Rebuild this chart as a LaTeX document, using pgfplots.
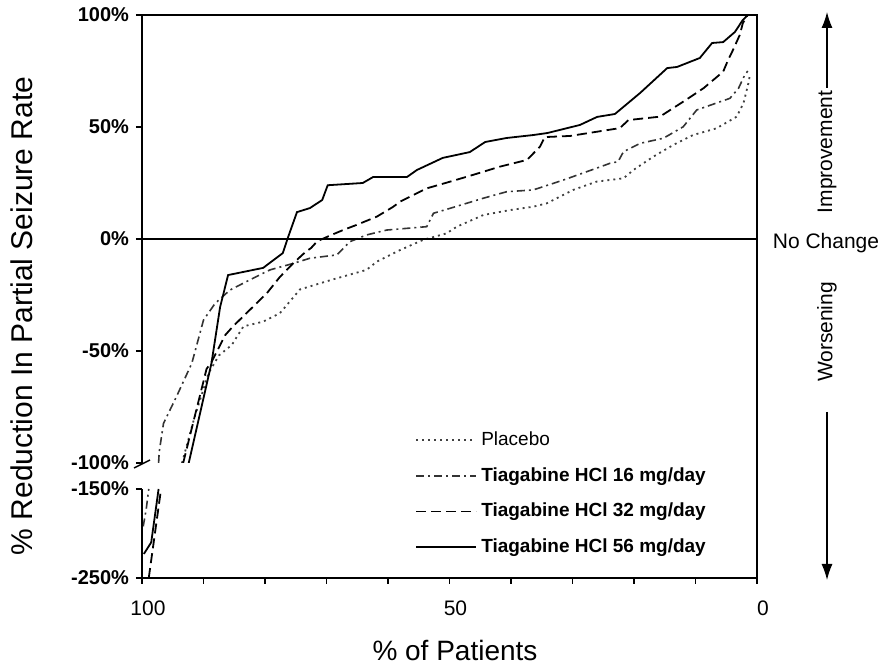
\documentclass[border=0pt]{standalone}
\usepackage{fontspec}
\setmainfont{Liberation Sans}
\usepackage{pgfplots}
\pgfplotsset{compat=1.18}
\usetikzlibrary{arrows.meta}

\pgfplotsset{
  s56/.style={black, line width=0.9pt},
  s32/.style={black, line width=0.9pt, dash pattern=on 5pt off 2.5pt},
  s16/.style={black!80, line width=0.8pt, dash pattern=on 4pt off 2pt on 1pt off 2pt},
  spl/.style={black!75, line width=0.9pt, dash pattern=on 1pt off 2pt},
}

\begin{document}
\begin{tikzpicture}
\path[use as bounding box] (0pt,0pt) rectangle (441pt,334pt);

\begin{axis}[
  name=upper,
  scale only axis, width=307.5pt, height=224pt,
  at={(71pt,102.5pt)}, anchor=south west,
  xmin=0, xmax=100, x dir=reverse, ymin=-100, ymax=100,
  xtick=\empty,
  ytick={-100,-50,0,50,100},
  yticklabels={-100\%,-50\%,0\%,50\%,100\%},
  yticklabel style={font=\fontsize{10}{12}\selectfont\bfseries},
  ytick pos=left, tick align=outside, major tick length=3pt,
  tick style={black, line width=0.7pt},
  axis line style={draw=none},
  legend style={draw=none, fill=none, at={(0.444,0.08)}, anchor=north west,
    font=\fontsize{9.5}{11}\selectfont\bfseries, row sep=5.5pt, inner sep=0pt},
  legend cell align=left,
  legend image code/.code={\draw[#1] (0pt,0pt) -- (30pt,0pt);},
]
\addplot[spl] coordinates {
(93.5,-100) (91.5,-80) (89.2,-60) (87.5,-52) (85.4,-47.3) (83.5,-39) (80.3,-36.9)
(77.6,-33.2) (74.3,-22.5) (68.9,-18) (63.5,-13.8) (61.8,-10.1) (58,-4.9) (54.3,-0.4)
(50.5,2.5) (48.8,5.5) (44.5,10.7) (40.2,12.9) (36.4,14.4) (34.2,15.9) (29.9,21.9)
(26.1,25.6) (21.7,27.1) (20.1,30.8) (16.9,36.7) (13.6,42) (10.4,46.4) (6.6,49.4)
(3.3,54.6) (2.2,60.6) (1.4,69.5) (1.1,74)
};
\addlegendentry{\mdseries Placebo}
\addplot[s16] coordinates {
(97.3,-100) (97.2,-95) (96.5,-82.3) (94.4,-70.4) (91.9,-55.5) (90,-36.2) (88.1,-28.7)
(85.7,-22.8) (83,-19) (79.2,-13.8) (75.4,-10.9) (72.7,-8.6) (68.3,-7.1) (66.2,-1.2)
(63.5,1.8) (60.2,4) (53.7,5.5) (52.6,11.5) (49.9,13.7) (44.5,18.2) (40.7,21.1)
(36.4,21.9) (31.5,26.3) (26.1,31.6) (23.9,33.8) (22.6,34.5) (21.7,39) (19,42.7)
(15.2,45) (12,50.1) (9.8,57.6) (4.4,62.8) (3,67.3) (2,73.2) (1.5,75)
};
\addlegendentry{Tiagabine HCl 16 mg/day}
\addplot[s32] coordinates {
(93.3,-100) (91.5,-80) (89.5,-58) (88.7,-55) (86.5,-43) (85.2,-39) (82,-30.4)
(79.7,-24.2) (77.6,-17) (75.4,-10.8) (73.5,-6) (72.5,-4) (71.5,-1) (69.2,1.8)
(67.3,4) (65.1,6.3) (61.8,10) (59.2,14.3) (58,16.7) (53.7,22.6) (49.9,25.6)
(46.2,28.6) (41.8,32.3) (37.4,35.3) (35.3,41.2) (34.5,45.5) (30.4,46) (22.3,49.5)
(20.9,53.1) (15.8,54.6) (14.1,57.6) (12,61.3) (8.7,67.3) (5.5,74.7) (4.7,79.9)
(3.9,84.4) (2.8,91.1) (2.3,96.4) (1.5,100)
};
\addlegendentry{Tiagabine HCl 32 mg/day}
\addplot[s56] coordinates {
(92.4,-100) (88.7,-55.4) (87.3,-30.4) (86.0,-16.1) (80.3,-12.9) (77.1,-6.3) (76.3,0.4)
(74.8,12) (72.7,13.8) (70.7,17.4) (69.8,24) (64.1,25) (62.4,27.7) (56.9,27.7)
(55.3,30.8) (51.1,36.2) (46.7,38.8) (44.2,43.3) (40.7,45.1) (36.4,46.4) (34.1,47.3)
(28.8,50.9) (26,54.5) (23.1,55.8) (19,65.2) (14.6,76.3) (13,76.8) (9.3,80.8)
(7.3,87.5) (5.5,87.9) (3.6,92.4) (2.3,97.8) (1.5,100) (0,100)
};
\addlegendentry{Tiagabine HCl 56 mg/day}
\draw[line width=1pt] (axis cs:100,0) -- (axis cs:0,0);
\end{axis}

\begin{axis}[
  name=lower,
  scale only axis, width=307.5pt, height=44.5pt,
  at={(71pt,45pt)}, anchor=south west,
  xmin=0, xmax=100, x dir=reverse, ymin=-250, ymax=-150,
  xtick={0,10,20,30,40,50,60,70,80,90,100},
  xticklabels={0,,,,,50,,,,,100},
  ytick={-250,-150},
  yticklabels={-250\%,-150\%},
  xticklabel style={font=\fontsize{10.5}{12}\selectfont, yshift=-5pt, xshift=3pt},
  yticklabel style={font=\fontsize{10}{12}\selectfont\bfseries},
  xtick pos=bottom, ytick pos=left, tick align=outside, major tick length=3pt,
  tick style={black, line width=0.7pt},
  axis line style={draw=none},
]
\addplot[s16] coordinates {(99.8,-192) (99.3,-172) (98.9,-150)};
\addplot[s32] coordinates {(98.9,-250) (96.9,-150)};
\addplot[s56] coordinates {(99.7,-223) (98.5,-210) (97.3,-150)};
\end{axis}

% frame
\draw[line width=0.8pt] (71pt,102.5pt) -- (71pt,326.5pt) -- (378.5pt,326.5pt) -- (378.5pt,45pt) -- (71pt,45pt) -- (71pt,89.5pt);
\draw[line width=0.7pt] (67pt,100pt) -- (75pt,104pt);

% labels
\node[rotate=90, font=\fontsize{15}{18}\selectfont] at (11pt,176pt) {\% Reduction In Partial Seizure Rate};
\node[font=\fontsize{14}{17}\selectfont] at (227.5pt,9pt) {\% of Patients};

% right annotations
\node[font=\fontsize{10.5}{12}\selectfont] at (413pt,212.5pt) {No Change};
\node[rotate=90, font=\fontsize{10.5}{12}\selectfont] at (413.5pt,258pt) {Improvement};
\draw[-{Latex[length=8pt,width=5.5pt]}, line width=0.6pt] (413.5pt,290pt) -- (413.5pt,328pt);
\node[rotate=90, font=\fontsize{10.5}{12}\selectfont] at (413.5pt,168pt) {Worsening};
\draw[-{Latex[length=8pt,width=5.5pt]}, line width=0.6pt] (413.5pt,128pt) -- (413.5pt,44pt);
\end{tikzpicture}
\end{document}
